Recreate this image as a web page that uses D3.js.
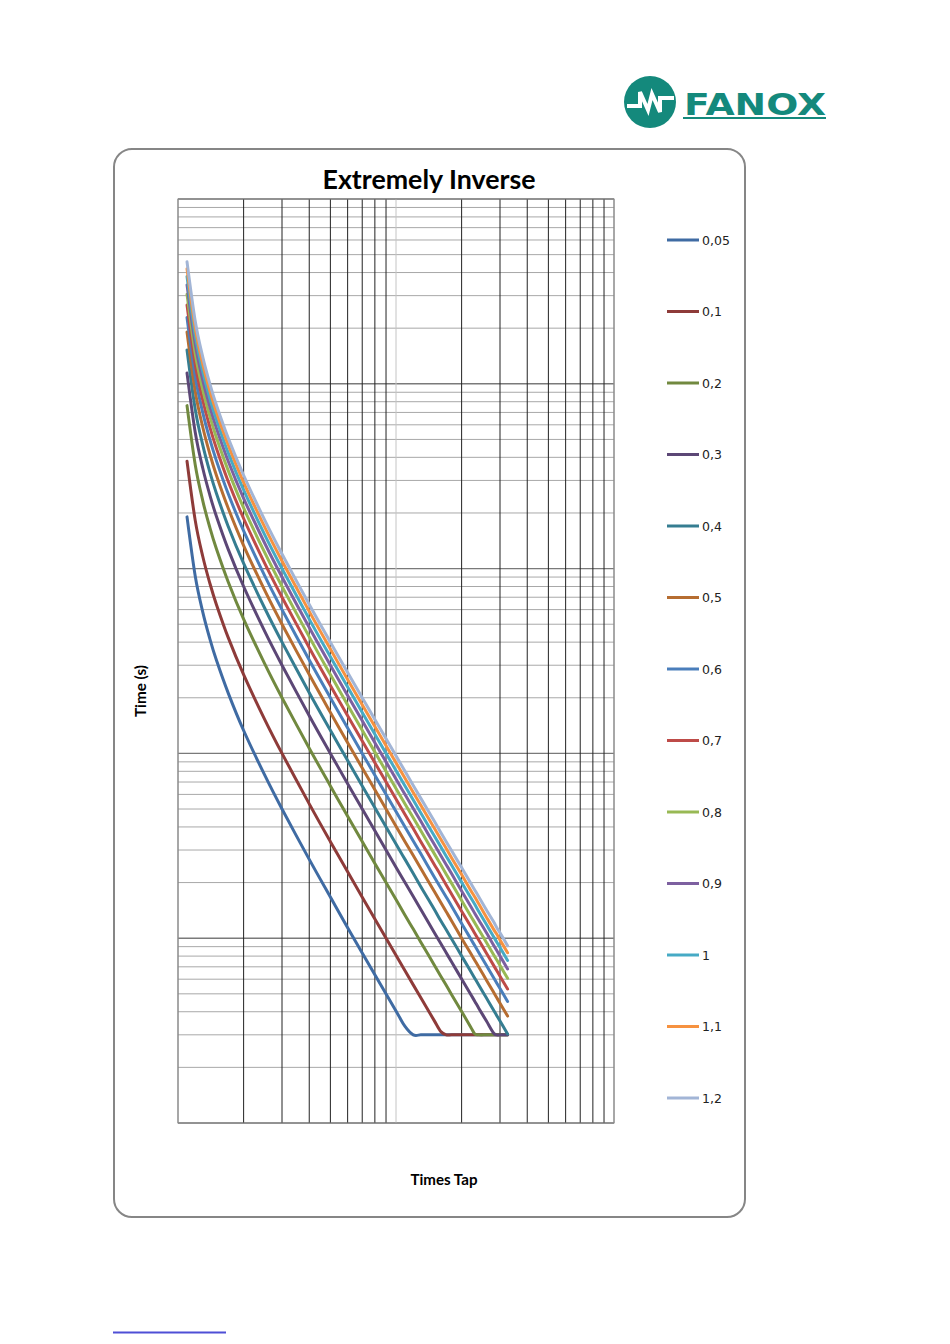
<!DOCTYPE html>
<html>
<head>
<meta charset="utf-8">
<script src="https://cdn.jsdelivr.net/npm/d3@7"></script>
<style>
  body { margin: 0; background: #fff; }
  svg { display: block; }
</style>
</head>
<body>
<div id="chart"></div>
<script>
// Multiples of tap current (x axis)
const timesTap = [1.1, 1.2, 1.3, 1.4, 1.5, 1.7, 2, 2.5, 3, 4, 5, 6, 8, 10, 11, 12, 13, 14, 15, 16, 17, 18, 20, 22, 23, 24, 26, 28, 29, 30, 32.5];

// Trip time in seconds for each time dial
const time_005 = [19.05, 9.09, 5.80, 4.17, 3.20, 2.12, 1.33, 0.762, 0.500, 0.267, 0.167, 0.114, 0.0635, 0.0404, 0.0333, 0.030, 0.030, 0.030, 0.030, 0.030, 0.030, 0.030, 0.030, 0.030, 0.030, 0.030, 0.030, 0.030, 0.030, 0.030, 0.030];
const time_01 = [38.1, 18.18, 11.59, 8.33, 6.40, 4.23, 2.67, 1.524, 1.00, 0.533, 0.333, 0.229, 0.127, 0.0808, 0.0667, 0.0559, 0.0476, 0.0410, 0.0357, 0.0314, 0.030, 0.030, 0.030, 0.030, 0.030, 0.030, 0.030, 0.030, 0.030, 0.030, 0.030];
const time_02 = [76.2, 36.4, 23.2, 16.67, 12.8, 8.47, 5.33, 3.05, 2.00, 1.067, 0.667, 0.457, 0.254, 0.162, 0.133, 0.112, 0.0952, 0.0821, 0.0714, 0.0627, 0.0556, 0.0495, 0.0401, 0.0331, 0.0303, 0.030, 0.030, 0.030, 0.030, 0.030, 0.030];
const time_03 = [114.3, 54.5, 34.8, 25.0, 19.2, 12.7, 8.00, 4.57, 3.00, 1.60, 1.00, 0.686, 0.381, 0.242, 0.200, 0.168, 0.143, 0.123, 0.107, 0.0941, 0.0833, 0.0743, 0.0602, 0.0497, 0.0455, 0.0417, 0.0356, 0.0307, 0.030, 0.030, 0.030];
const time_04 = [152.4, 72.7, 46.4, 33.3, 25.6, 16.9, 10.67, 6.10, 4.00, 2.13, 1.333, 0.914, 0.508, 0.323, 0.267, 0.224, 0.190, 0.164, 0.143, 0.125, 0.111, 0.0991, 0.0802, 0.0662, 0.0606, 0.0557, 0.0474, 0.0409, 0.0381, 0.0356, 0.0303];
const time_05 = [190.5, 90.9, 58.0, 41.7, 32.0, 21.2, 13.33, 7.62, 5.00, 2.67, 1.667, 1.143, 0.635, 0.404, 0.333, 0.280, 0.238, 0.205, 0.179, 0.157, 0.139, 0.124, 0.100, 0.0828, 0.0758, 0.0696, 0.0593, 0.0511, 0.0476, 0.0445, 0.0379];
const time_06 = [228.6, 109.1, 69.6, 50.0, 38.4, 25.4, 16.0, 9.14, 6.00, 3.20, 2.00, 1.371, 0.762, 0.485, 0.400, 0.336, 0.286, 0.246, 0.214, 0.188, 0.167, 0.149, 0.120, 0.0994, 0.0909, 0.0835, 0.0711, 0.0613, 0.0571, 0.0534, 0.0455];
const time_07 = [266.7, 127.3, 81.2, 58.3, 44.8, 29.6, 18.67, 10.67, 7.00, 3.73, 2.33, 1.60, 0.889, 0.566, 0.467, 0.392, 0.333, 0.287, 0.250, 0.220, 0.194, 0.173, 0.140, 0.116, 0.106, 0.0974, 0.0830, 0.0715, 0.0667, 0.0623, 0.0531];
const time_08 = [304.8, 145.5, 92.8, 66.7, 51.2, 33.9, 21.3, 12.19, 8.00, 4.27, 2.67, 1.829, 1.016, 0.646, 0.533, 0.448, 0.381, 0.328, 0.286, 0.251, 0.222, 0.198, 0.160, 0.132, 0.121, 0.111, 0.0948, 0.0817, 0.0762, 0.0712, 0.0607];
const time_09 = [342.9, 163.6, 104.3, 75.0, 57.6, 38.1, 24.0, 13.71, 9.00, 4.80, 3.00, 2.06, 1.143, 0.727, 0.600, 0.503, 0.429, 0.369, 0.321, 0.282, 0.250, 0.223, 0.180, 0.149, 0.136, 0.125, 0.107, 0.0920, 0.0857, 0.0801, 0.0682];
const time_10 = [380.95, 181.8, 115.9, 83.3, 64.0, 42.3, 26.67, 15.24, 10.0, 5.33, 3.33, 2.286, 1.270, 0.808, 0.667, 0.559, 0.476, 0.410, 0.357, 0.314, 0.278, 0.248, 0.2005, 0.166, 0.152, 0.139, 0.1185, 0.102, 0.0952, 0.0890, 0.0758];
const time_11 = [419.0, 200.0, 127.5, 91.7, 70.4, 46.6, 29.3, 16.76, 11.0, 5.87, 3.67, 2.51, 1.397, 0.889, 0.733, 0.615, 0.524, 0.451, 0.393, 0.345, 0.306, 0.272, 0.221, 0.182, 0.167, 0.153, 0.130, 0.112, 0.105, 0.0979, 0.0834];
const time_12 = [457.1, 218.2, 139.1, 100.0, 76.8, 50.8, 32.0, 18.29, 12.0, 6.40, 4.00, 2.74, 1.524, 0.970, 0.800, 0.671, 0.571, 0.492, 0.429, 0.376, 0.333, 0.297, 0.241, 0.199, 0.182, 0.167, 0.142, 0.123, 0.114, 0.107, 0.0910];

const dialLabels = ["0,05", "0,1", "0,2", "0,3", "0,4", "0,5", "0,6", "0,7", "0,8", "0,9", "1", "1,1", "1,2"];
const dialTimes = [time_005, time_01, time_02, time_03, time_04, time_05, time_06, time_07, time_08, time_09, time_10, time_11, time_12];

const colors = ["#3f6ba3", "#8e3b39", "#71893f", "#5c4776", "#357d91", "#b66d31",
                "#4a7ebb", "#be4b48", "#98b954", "#7d60a0", "#46aac5", "#f69240", "#a2b5d6"];

const series = dialLabels.map((label, i) => ({ label, values: dialTimes[i], color: colors[i] }));

const width = 950;
const height = 1344;
const plot = { left: 178, right: 614, top: 199, bottom: 1123 };

const svg = d3.select("#chart").append("svg")
    .attr("width", width)
    .attr("height", height)
    .attr("viewBox", [0, 0, width, height]);

svg.append("rect").attr("width", width).attr("height", height).attr("fill", "#fff");

// FANOX logo
const logo = svg.append("g");
const teal = "#14897c";
logo.append("circle").attr("cx", 650).attr("cy", 102).attr("r", 26).attr("fill", teal);
logo.append("path")
    .attr("d", "M627,106 L640,106 L640,92 L648,110 L652,94 L660,112 L660,98 L674,98")
    .attr("fill", "none").attr("stroke", "#fff").attr("stroke-width", 4)
    .attr("stroke-linejoin", "miter");
logo.append("text")
    .attr("x", 684).attr("y", 115)
    .attr("font-family", "DejaVu Sans").attr("font-weight", "bold")
    .attr("font-size", 31).attr("fill", teal)
    .attr("textLength", 142).attr("lengthAdjust", "spacingAndGlyphs")
    .text("FANOX");
logo.append("rect").attr("x", 683).attr("y", 117).attr("width", 143).attr("height", 2).attr("fill", teal);

// chart frame
svg.append("rect")
    .attr("x", 114).attr("y", 149)
    .attr("width", 631).attr("height", 1068)
    .attr("rx", 18).attr("ry", 18)
    .attr("fill", "#fff").attr("stroke", "#868686").attr("stroke-width", 2);

// Scales
const x = d3.scaleLog().domain([1, 100]).range([plot.left, plot.right]);
const y = d3.scaleLog().domain([0.01, 1000]).range([plot.bottom, plot.top]);

const isDecade = v => Math.abs(Math.log10(v) - Math.round(Math.log10(v))) < 1e-9;

// horizontal grid
const yTicks = y.ticks();
svg.append("g")
    .selectAll("line")
    .data(yTicks)
    .join("line")
    .attr("x1", plot.left).attr("x2", plot.right)
    .attr("y1", d => y(d)).attr("y2", d => y(d))
    .attr("stroke", d => isDecade(d) ? "#7a7a7a" : "#a8a8a8")
    .attr("stroke-width", d => isDecade(d) ? 1.4 : 1);

// vertical grid
const xTicks = x.ticks();
svg.append("g")
    .selectAll("line")
    .data(xTicks)
    .join("line")
    .attr("y1", plot.top).attr("y2", plot.bottom)
    .attr("x1", d => x(d)).attr("x2", d => x(d))
    .attr("stroke", d => d === 1 || d === 100 ? "#8a8a8a" : isDecade(d) ? "#c4c4c4" : "#222")
    .attr("stroke-width", 1);

// plot border
svg.append("rect")
    .attr("x", plot.left).attr("y", plot.top)
    .attr("width", plot.right - plot.left).attr("height", plot.bottom - plot.top)
    .attr("fill", "none").attr("stroke", "#8a8a8a").attr("stroke-width", 1);

// Curves
svg.append("clipPath").attr("id", "plot-clip")
    .append("rect")
    .attr("x", plot.left).attr("y", plot.top)
    .attr("width", plot.right - plot.left).attr("height", plot.bottom - plot.top);

const line = d3.line()
    .x((d, i) => x(timesTap[i]))
    .y(d => y(d))
    .curve(d3.curveCatmullRom.alpha(0));

svg.append("g")
    .attr("clip-path", "url(#plot-clip)")
    .selectAll("path")
    .data(series)
    .join("path")
    .attr("d", d => line(d.values))
    .attr("fill", "none")
    .attr("stroke", d => d.color)
    .attr("stroke-width", 3)
    .attr("stroke-linejoin", "round")
    .attr("stroke-linecap", "round");

// Titles
svg.append("text")
    .attr("x", 429).attr("y", 189)
    .attr("text-anchor", "middle")
    .attr("font-family", "Lato, 'Open Sans', sans-serif").attr("font-weight", "bold")
    .attr("font-size", 27).attr("fill", "#000")
    .attr("textLength", 213).attr("lengthAdjust", "spacingAndGlyphs")
    .text("Extremely Inverse");

svg.append("text")
    .attr("x", 444).attr("y", 1185)
    .attr("text-anchor", "middle")
    .attr("font-family", "Lato, 'Open Sans', sans-serif").attr("font-weight", "bold")
    .attr("font-size", 14.5).attr("fill", "#000")
    .attr("textLength", 67).attr("lengthAdjust", "spacingAndGlyphs")
    .text("Times Tap");

svg.append("text")
    .attr("transform", "translate(146,691) rotate(-90)")
    .attr("text-anchor", "middle")
    .attr("font-family", "Lato, 'Open Sans', sans-serif").attr("font-weight", "bold")
    .attr("font-size", 14.5).attr("fill", "#000")
    .attr("textLength", 52).attr("lengthAdjust", "spacingAndGlyphs")
    .text("Time (s)");

// Legend
const legendY = d3.scalePoint().domain(dialLabels).range([240, 1098]);
const legend = svg.append("g")
    .selectAll("g")
    .data(series)
    .join("g")
    .attr("transform", d => `translate(667,${legendY(d.label)})`);

legend.append("line")
    .attr("x1", 0).attr("x2", 32)
    .attr("stroke", d => d.color).attr("stroke-width", 3);

legend.append("text")
    .attr("x", 35).attr("y", 4.5)
    .attr("font-family", "DejaVu Sans").attr("font-size", 12.5)
    .attr("fill", "#222")
    .text(d => d.label);

// underline link at page foot
svg.append("line")
    .attr("x1", 113).attr("x2", 226)
    .attr("y1", 1332.5).attr("y2", 1332.5)
    .attr("stroke", "#4f4fd6").attr("stroke-width", 2);
</script>
</body>
</html>
